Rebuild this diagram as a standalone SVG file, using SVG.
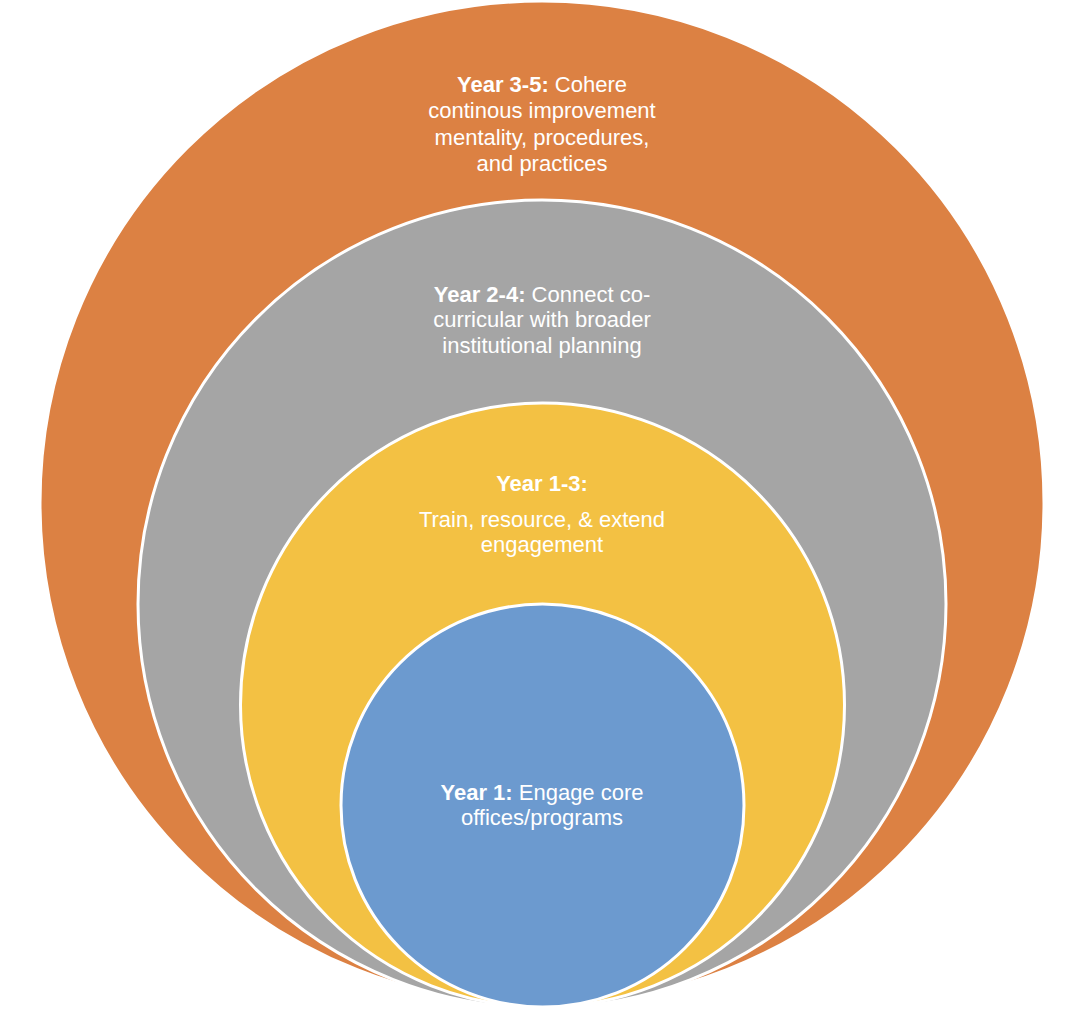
<svg xmlns="http://www.w3.org/2000/svg" width="1086" height="1030" viewBox="0 0 1086 1030">
<style>
.c{stroke:#fff;stroke-width:3}
text{font-family:"Liberation Sans",Arial,sans-serif;font-size:22px;fill:#fff;text-anchor:middle}
.b{font-weight:bold}
</style>
<rect width="1086" height="1030" fill="#fff"/>
<g id="year3-5">
<circle class="c" cx="542" cy="503" r="502" fill="#DC8143"/>
<text x="542" y="92"><tspan class="b">Year 3-5:</tspan> Cohere</text>
<text x="542" y="118">continous improvement</text>
<text x="542" y="145">mentality, procedures,</text>
<text x="542" y="171">and practices</text>
</g>
<g id="year2-4">
<circle class="c" cx="542" cy="604" r="404" fill="#A5A5A5"/>
<text x="542" y="302"><tspan class="b">Year 2-4:</tspan> Connect co-</text>
<text x="542" y="327">curricular with broader</text>
<text x="542" y="353">institutional planning</text>
</g>
<g id="year1-3">
<circle class="c" cx="542.5" cy="705" r="302" fill="#F3C143"/>
<text x="542" y="491" class="b">Year 1-3:</text>
<text x="542" y="527">Train, resource, &amp; extend</text>
<text x="542" y="552">engagement</text>
</g>
<g id="year1">
<circle class="c" cx="542.5" cy="805.5" r="201.5" fill="#6C9ACF"/>
<text x="542" y="800"><tspan class="b">Year 1:</tspan> Engage core</text>
<text x="542" y="825">offices/programs</text>
</g>
<g id="connectors"/>
</svg>
